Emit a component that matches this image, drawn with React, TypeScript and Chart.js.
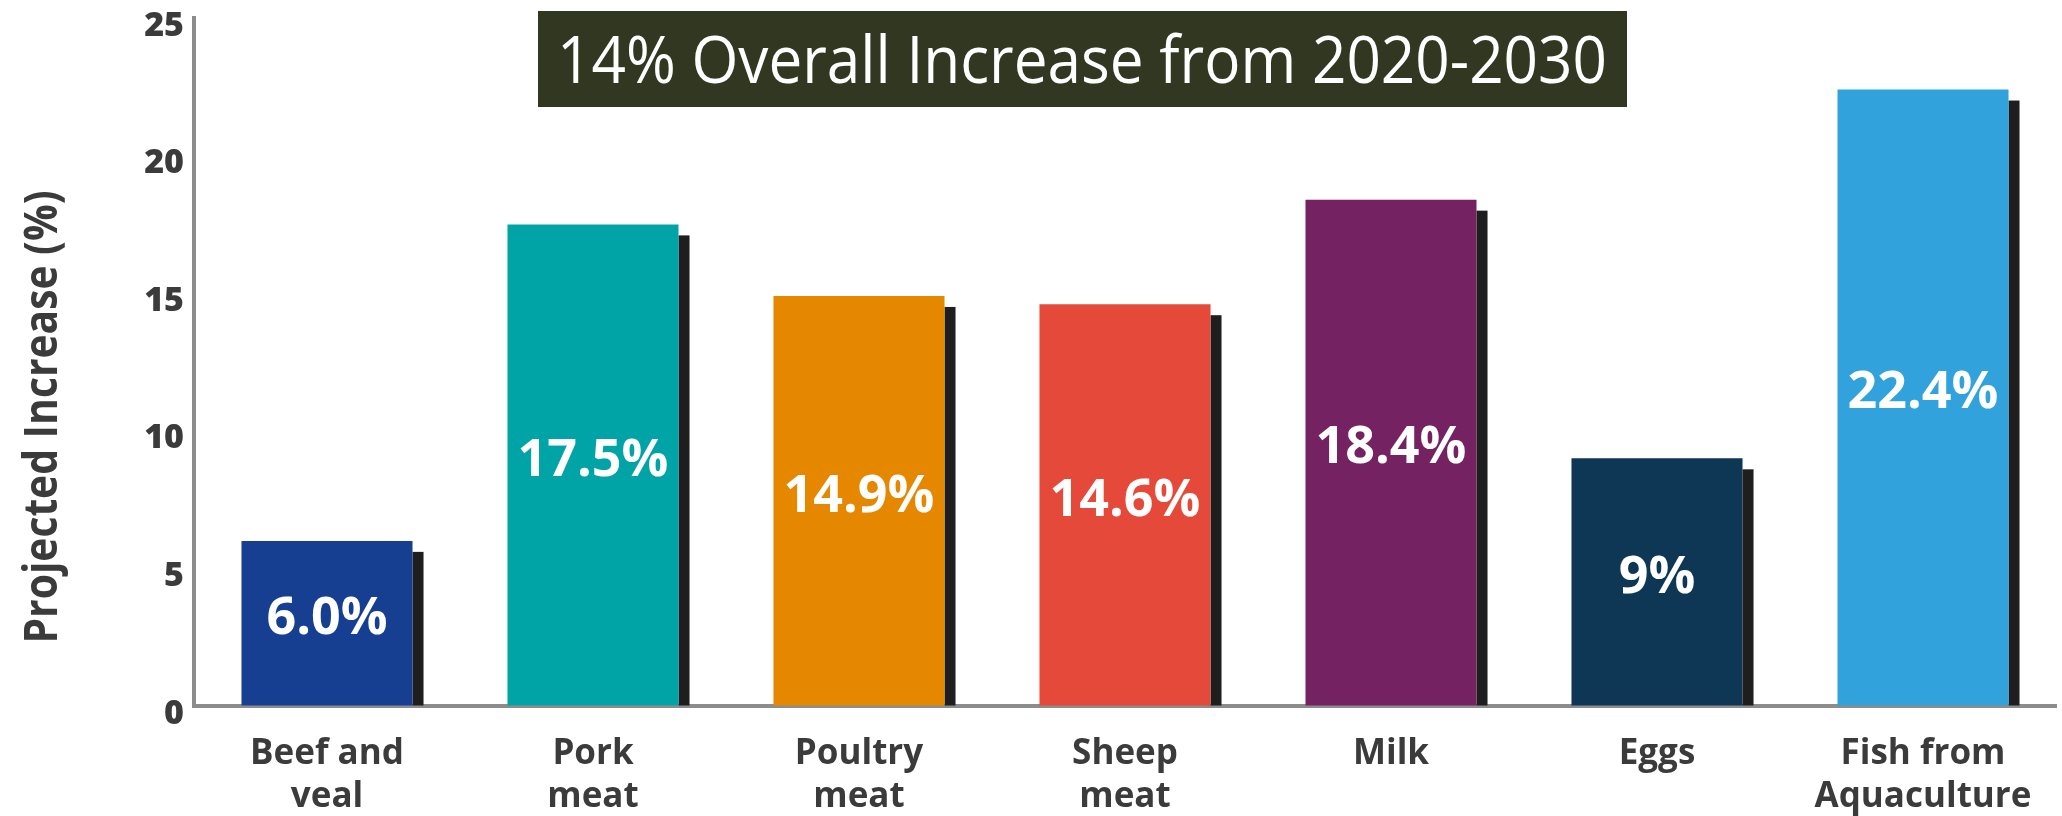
import React, { useEffect, useRef } from 'react';
import { Chart, registerables } from 'chart.js';

Chart.register(...registerables);

// ---- Data ----
const categories: string[][] = [
  ['Beef and', 'veal'],
  ['Pork', 'meat'],
  ['Poultry', 'meat'],
  ['Sheep', 'meat'],
  ['Milk'],
  ['Eggs'],
  ['Fish from', 'Aquaculture'],
];
const values: number[] = [6.0, 17.5, 14.9, 14.6, 18.4, 9, 22.4];
const valueLabels: string[] = ['6.0%', '17.5%', '14.9%', '14.6%', '18.4%', '9%', '22.4%'];
const barColors: string[] = ['#163F92', '#00A3A6', '#E58800', '#E5493A', '#752263', '#0E3755', '#31A2DB'];
const yMin = 0;
const yMax = 25;
const yStep = 5;
const chartTitle = '14% Overall Increase from 2020-2030';
const yAxisTitle = 'Projected Increase (%)';

// ---- Styles ----
const FONT = '"Open Sans", "Noto Sans", sans-serif';
const TEXT_DARK = '#3b3b3b';
const AXIS_GRAY = '#8c8c8c';
const SHADOW = 11;

const decorPlugin = {
  id: 'decor',
  beforeDatasetsDraw(chart: any) {
    const ctx = chart.ctx as CanvasRenderingContext2D;
    const meta = chart.getDatasetMeta(0);
    ctx.save();
    ctx.fillStyle = '#1e1e1e';
    meta.data.forEach((el: any) => {
      const { x, y, base, width } = el.getProps(['x', 'y', 'base', 'width'], true);
      const left = x + width / 2;
      const top = y + SHADOW;
      ctx.fillRect(left, top, SHADOW, base - top);
    });
    ctx.restore();
  },
  afterDatasetsDraw(chart: any) {
    const ctx = chart.ctx as CanvasRenderingContext2D;
    const meta = chart.getDatasetMeta(0);
    ctx.save();
    ctx.fillStyle = '#ffffff';
    ctx.font = `bold 52px ${FONT}`;
    ctx.textAlign = 'center';
    ctx.textBaseline = 'middle';
    meta.data.forEach((el: any, i: number) => {
      const { x, y, base } = el.getProps(['x', 'y', 'base'], true);
      ctx.fillText(valueLabels[i], x, (y + base) / 2 - 4);
    });
    ctx.restore();
  },
  afterDraw(chart: any) {
    const ctx = chart.ctx as CanvasRenderingContext2D;
    ctx.save();
    // Title box
    ctx.fillStyle = '#313721';
    ctx.fillRect(538, 11, 1089, 96);
    ctx.fillStyle = '#ffffff';
    ctx.font = `400 66px ${FONT}`;
    ctx.textAlign = 'left';
    ctx.textBaseline = 'alphabetic';
    ctx.fillText(chartTitle, 557, 83, 1050);
    ctx.restore();

    // Y axis title
    ctx.save();
    ctx.translate(57, 417);
    ctx.rotate(-Math.PI / 2);
    ctx.fillStyle = TEXT_DARK;
    ctx.font = `bold 46px ${FONT}`;
    ctx.textAlign = 'center';
    ctx.textBaseline = 'alphabetic';
    ctx.fillText(yAxisTitle, 0, 0, 453);
    ctx.restore();
  },
};

export default function App() {
  const ref = useRef<HTMLCanvasElement>(null);

  useEffect(() => {
    if (!ref.current) return;
    const chart = new Chart(ref.current, {
      type: 'bar',
      data: {
        labels: categories as any,
        datasets: [
          {
            data: values,
            backgroundColor: barColors,
            borderWidth: 0,
            categoryPercentage: 1,
            barPercentage: 0.643,
          },
        ],
      },
      options: {
        animation: false,
        responsive: false,
        events: [],
        layout: { padding: { top: 18, right: 6, bottom: 0, left: 0 } },
        plugins: {
          legend: { display: false },
          tooltip: { enabled: false },
          title: { display: false },
        },
        scales: {
          x: {
            z: 1,
            grid: { display: true, drawOnChartArea: false, drawTicks: false },
            border: { display: true, color: AXIS_GRAY, width: 4 },
            ticks: {
              color: TEXT_DARK,
              font: { family: FONT, size: 35, weight: 'bold', lineHeight: 1.22 },
              padding: 27,
              maxRotation: 0,
              autoSkip: false,
            },
            afterFit: (s: any) => {
              s.height = 110;
              s.paddingLeft = 0;
              s.paddingRight = 0;
            },
          },
          y: {
            z: 1,
            min: yMin,
            max: yMax,
            grid: { display: true, drawOnChartArea: false, drawTicks: false },
            border: { display: true, color: AXIS_GRAY, width: 4 },
            ticks: {
              stepSize: yStep,
              color: TEXT_DARK,
              font: { family: FONT, size: 34, weight: '800' },
              padding: 10,
              labelOffset: 8,
            },
            afterFit: (s: any) => {
              s.width = 194;
              s.paddingTop = 0;
              s.paddingBottom = 0;
            },
          },
        },
      } as any,
      plugins: [decorPlugin],
    });

    const fonts = (document as any).fonts;
    if (fonts && fonts.load) {
      Promise.all([
        fonts.load(`bold 33px "Open Sans"`),
        fonts.load(`800 34px "Open Sans"`),
        fonts.load(`400 66px "Open Sans"`),
      ])
        .catch(() => {})
        .then(() => {
          try {
            chart.update();
          } catch (e) {}
        });
    }

    return () => {
      chart.destroy();
    };
  }, []);

  return (
    <canvas
      ref={ref}
      width={2062}
      height={816}
      style={{ position: 'fixed', left: 0, top: 0, width: 2062, height: 816, background: '#ffffff' }}
    />
  );
}
